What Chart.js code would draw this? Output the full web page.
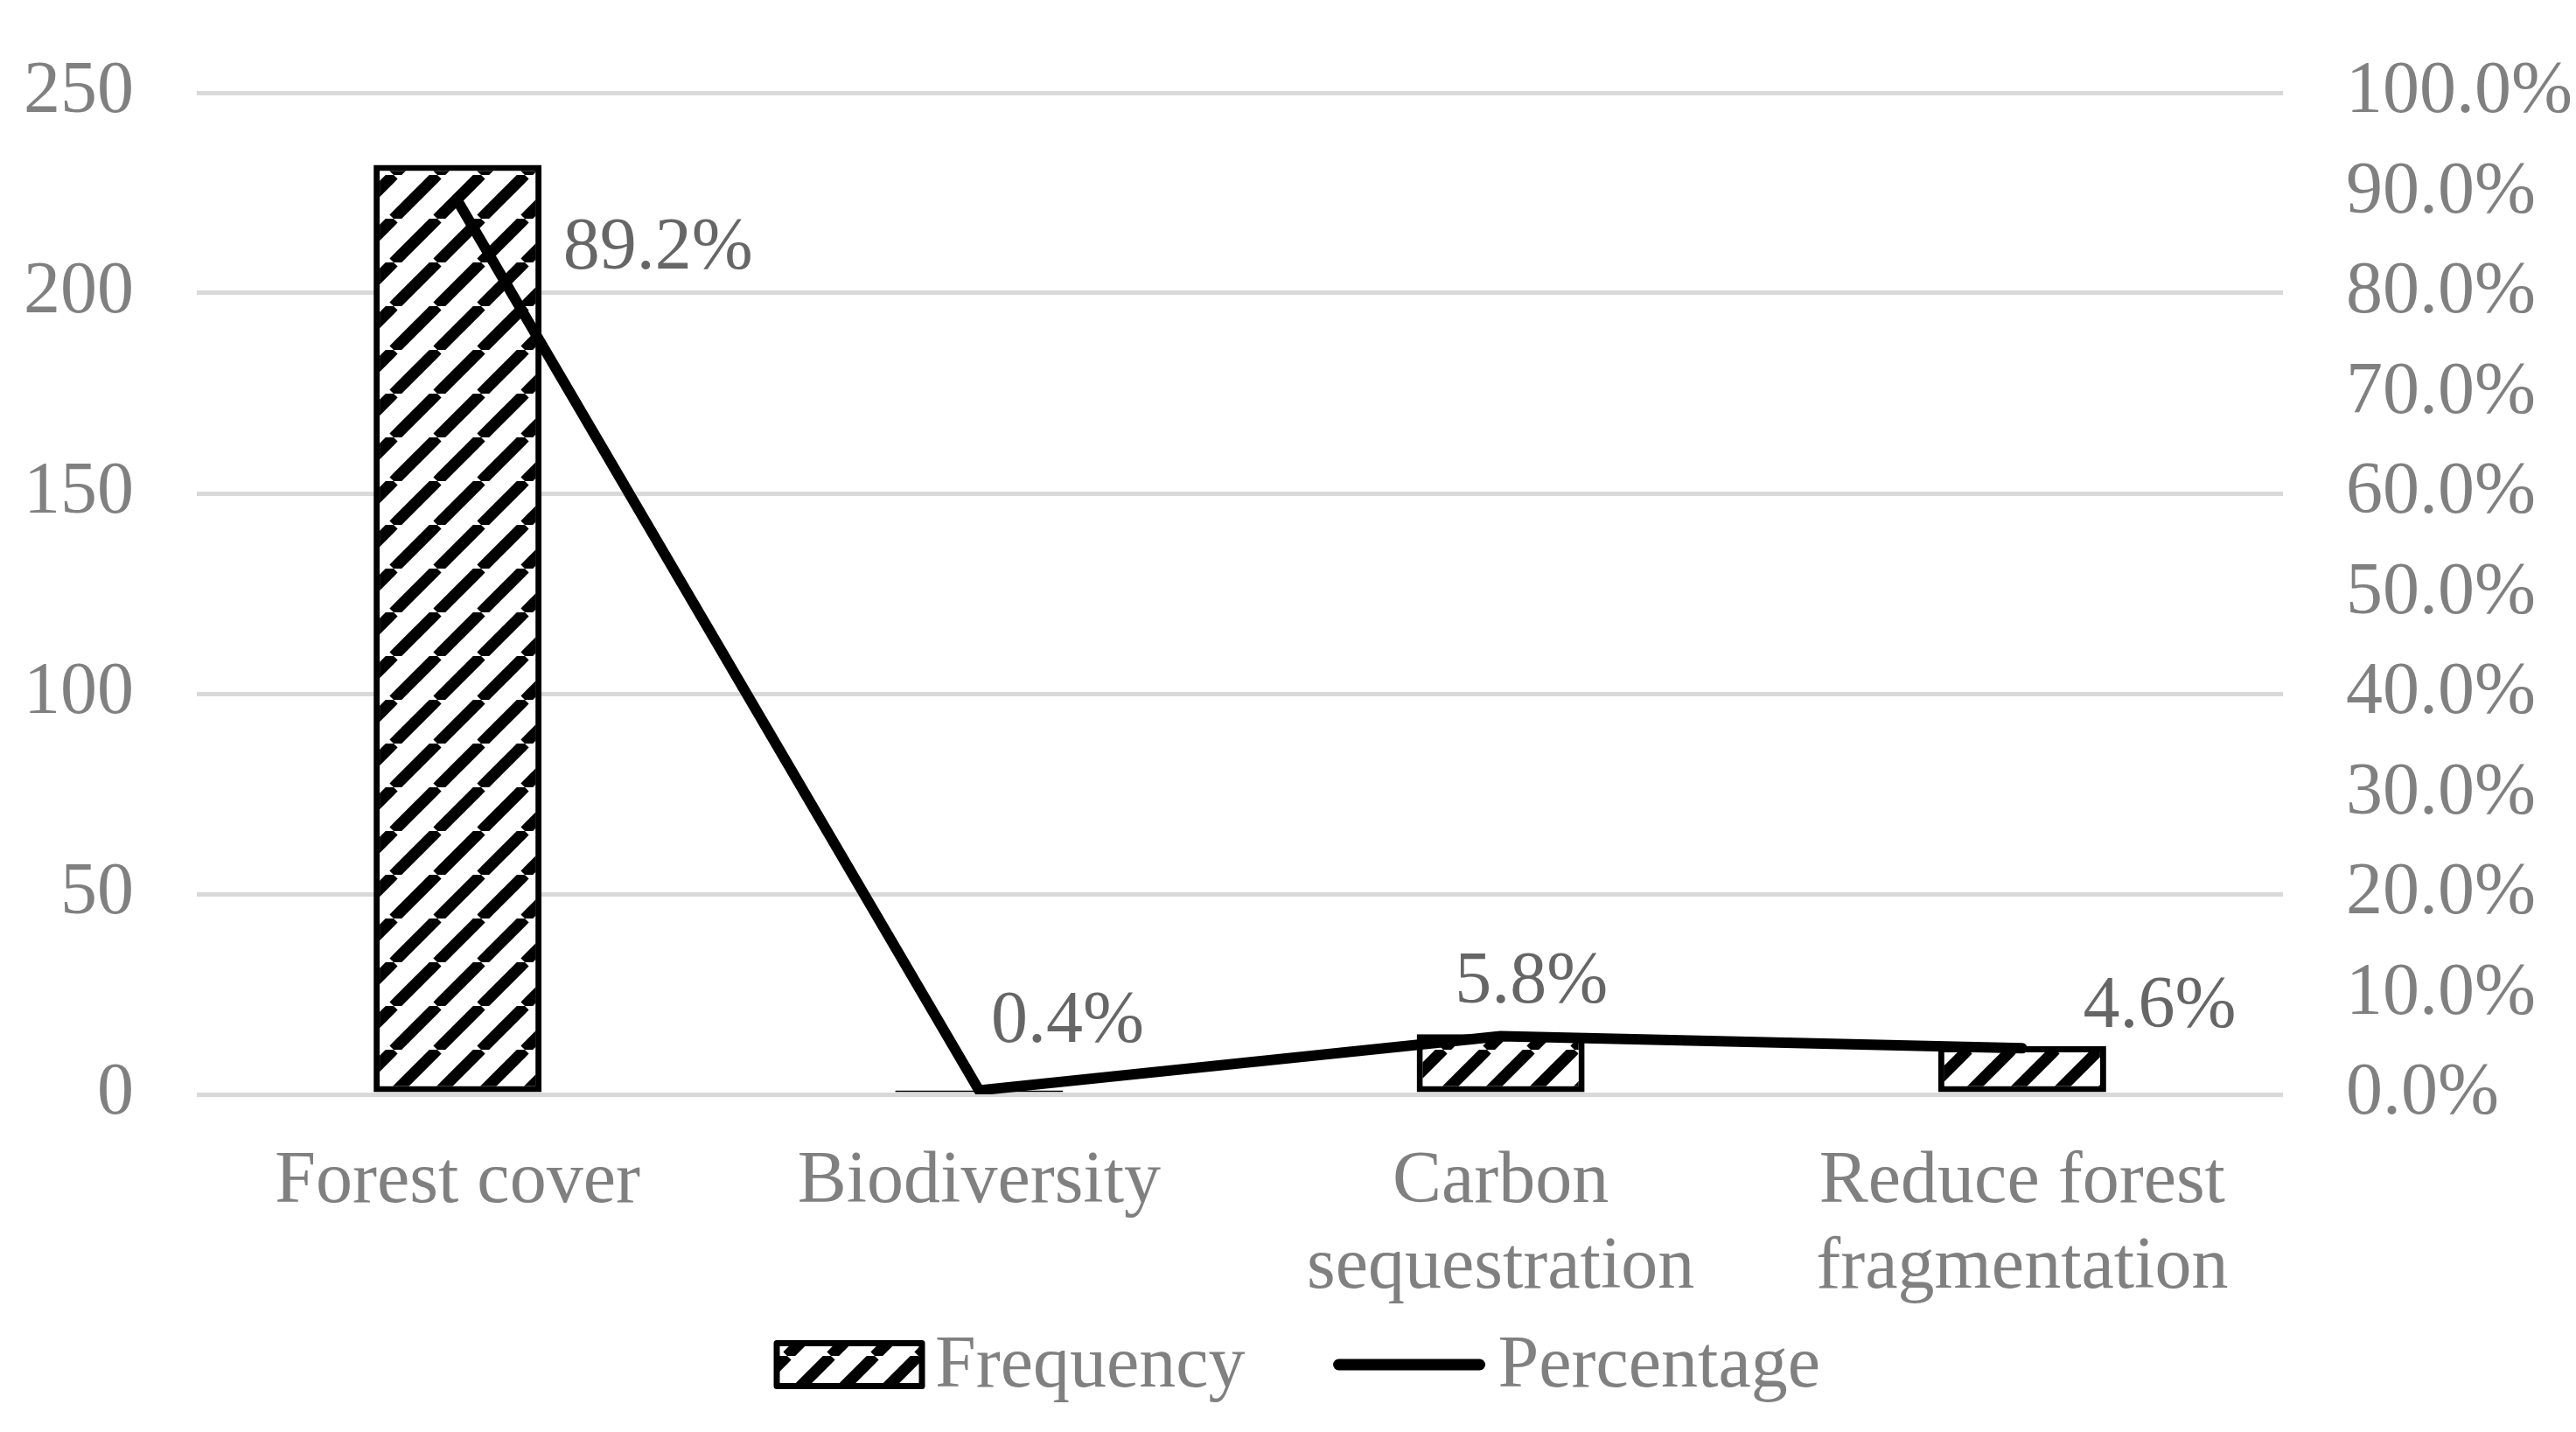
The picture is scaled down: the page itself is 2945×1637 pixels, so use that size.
<!DOCTYPE html>
<html>
<head>
<meta charset="utf-8">
<script src="https://cdn.jsdelivr.net/npm/chart.js@4.4.1/dist/chart.umd.min.js"></script>
<style>
  html, body { margin: 0; padding: 0; background: #ffffff; }
  #wrap { width: 2945px; height: 1637px; }
</style>
</head>
<body>
<div id="wrap"><canvas id="chart" width="2945" height="1637"></canvas></div>
<script>
const categories = ["Forest cover", ["Biodiversity"], ["Carbon", "sequestration"], ["Reduce forest", "fragmentation"]];
const frequency = [232, 1, 15, 12];
const percentage = [89.2, 0.4, 5.8, 4.6];
const leftTicks = [0, 50, 100, 150, 200, 250];
const rightTicks = [0, 10, 20, 30, 40, 50, 60, 70, 80, 90, 100];
const seriesNames = ["Frequency", "Percentage"];

const FONT = "'Liberation Serif', 'Times New Roman', serif";
const AXIS_GREY = "#808080";

// hatch fill like the Excel "wide upward diagonal" pattern
function makeHatch() {
    const s = 50;
    const c = document.createElement("canvas");
    c.width = s; c.height = s;
    const g = c.getContext("2d");
    g.fillStyle = "#ffffff";
    g.fillRect(0, 0, s, s);
    g.strokeStyle = "#000000";
    g.lineWidth = 13;
    for (let k = -1; k <= 1; k++) {
        g.beginPath();
        g.moveTo(k * s, s);
        g.lineTo(k * s + s, 0);
        g.stroke();
    }
    return document.getElementById("chart").getContext("2d").createPattern(c, "repeat");
}
const hatch = makeHatch();

// percentage labels next to the line points (offsets in px from each point)
const pointLabels = {
    id: "pointLabels",
    afterDatasetsDraw(chart, args, opts) {
        const ctx = chart.ctx;
        const meta = chart.getDatasetMeta(1);
        ctx.save();
        ctx.font = "84px " + FONT;
        ctx.fillStyle = "#666666";
        ctx.textAlign = "center";
        ctx.textBaseline = "alphabetic";
        meta.data.forEach((pt, i) => {
            const off = opts.offsets[i];
            ctx.fillText(percentage[i].toFixed(1) + "%", pt.x + off[0], pt.y + off[1]);
        });
        ctx.restore();
    }
};

// Excel-style legend under the axis
const bottomLegend = {
    id: "bottomLegend",
    afterDraw(chart, args, opts) {
        const ctx = chart.ctx;
        ctx.save();
        ctx.font = "84px " + FONT;
        const wF = ctx.measureText(seriesNames[0]).width;
        const wP = ctx.measureText(seriesNames[1]).width;
        const total = opts.boxW + opts.textGap + wF + opts.itemGap + opts.lineW + opts.textGap + wP;
        let x = chart.width / 2 + opts.shift - total / 2;
        const cy = opts.y;

        ctx.fillStyle = hatch;
        ctx.fillRect(x, cy - opts.boxH / 2, opts.boxW, opts.boxH);
        ctx.strokeStyle = "#000000";
        ctx.lineWidth = 7;
        ctx.lineJoin = "round";
        ctx.strokeRect(x, cy - opts.boxH / 2, opts.boxW, opts.boxH);
        x += opts.boxW + opts.textGap;

        ctx.fillStyle = AXIS_GREY;
        ctx.textBaseline = "alphabetic";
        ctx.fillText(seriesNames[0], x, cy + 25);
        x += wF + opts.itemGap;

        ctx.beginPath();
        ctx.lineWidth = 13;
        ctx.lineCap = "round";
        ctx.moveTo(x + 6, cy);
        ctx.lineTo(x + opts.lineW - 6, cy);
        ctx.stroke();
        x += opts.lineW + opts.textGap;

        ctx.fillText(seriesNames[1], x, cy + 25);
        ctx.restore();
    }
};

// keep the value axes from pushing the plot area around
function fixVertical(width) {
    return s => {
        s.width = width;
        s.paddingTop = 0;
        s.paddingBottom = 0;
    };
}

new Chart(document.getElementById("chart"), {
    type: "bar",
    data: {
        labels: categories,
        datasets: [{
            label: seriesNames[0],
            data: frequency,
            backgroundColor: hatch,
            borderColor: "#000000",
            borderWidth: 7,
            borderSkipped: false,
            categoryPercentage: 1,
            barPercentage: 0.322,
            yAxisID: "y",
            order: 2
        }, {
            type: "line",
            label: seriesNames[1],
            data: percentage,
            borderColor: "#000000",
            backgroundColor: "#000000",
            borderWidth: 12,
            borderCapStyle: "round",
            borderJoinStyle: "round",
            pointRadius: 0,
            tension: 0,
            yAxisID: "y1",
            order: 1
        }]
    },
    options: {
        responsive: false,
        devicePixelRatio: 1,
        animation: false,
        layout: { padding: { top: 106, bottom: 0, left: 0, right: 0 } },
        scales: {
            x: {
                grid: { display: false, drawTicks: false },
                border: { display: false },
                afterFit: s => { s.height = 1637 - 1251; },
                ticks: {
                    color: AXIS_GREY,
                    font: { family: FONT, size: 84, lineHeight: 1.17 },
                    padding: 52,
                    autoSkip: false,
                    maxRotation: 0
                }
            },
            y: {
                position: "left",
                min: 0,
                max: 250,
                afterBuildTicks: s => { s.ticks = leftTicks.map(v => ({ value: v })); },
                afterFit: fixVertical(225),
                grid: { color: "#d9d9d9", lineWidth: 5, drawTicks: false },
                border: { display: false },
                ticks: {
                    color: AXIS_GREY,
                    font: { family: FONT, size: 84 },
                    padding: 72
                }
            },
            y1: {
                position: "right",
                min: 0,
                max: 100,
                afterBuildTicks: s => { s.ticks = rightTicks.map(v => ({ value: v })); },
                afterFit: fixVertical(335),
                grid: { drawOnChartArea: false, drawTicks: false },
                border: { display: false },
                ticks: {
                    color: AXIS_GREY,
                    font: { family: FONT, size: 84 },
                    padding: 72,
                    callback: v => v.toFixed(1) + "%"
                }
            }
        },
        plugins: {
            tooltip: { enabled: false },
            legend: { display: false },
            pointLabels: {
                offsets: [[229, 77], [101, -55], [35, -39], [157, -24]]
            },
            bottomLegend: {
                y: 1560, shift: 12, boxW: 166, boxH: 49,
                textGap: 15, itemGap: 101, lineW: 173
            }
        }
    },
    plugins: [pointLabels, bottomLegend]
});
</script>
</body>
</html>
